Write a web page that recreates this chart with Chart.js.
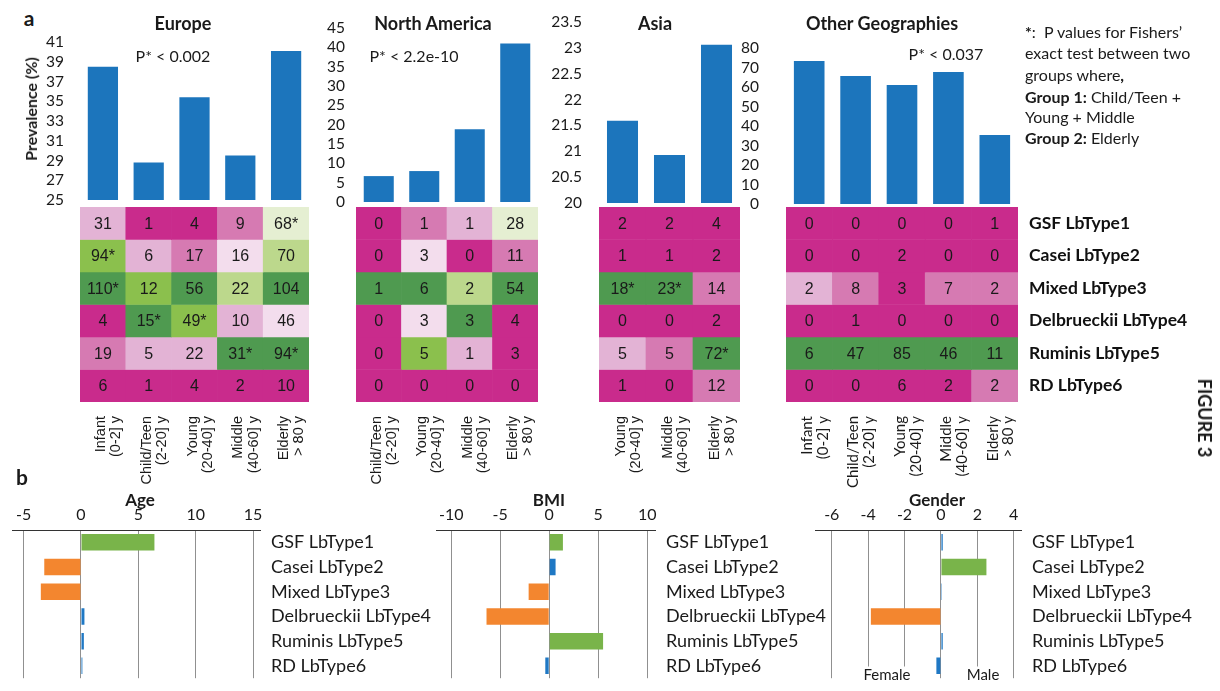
<!DOCTYPE html>
<html>
<head>
<meta charset="utf-8">
<script src="https://cdn.jsdelivr.net/npm/chart.js@4.4.1/dist/chart.umd.min.js"></script>
<style>
  html, body { margin: 0; padding: 0; background: #fff; }
  #fig { position: relative; width: 1220px; height: 691px; overflow: hidden; font-family: Lato, sans-serif; color: #1a1a1a; }
  #fig canvas { position: absolute; }
  .t { position: absolute; white-space: nowrap; line-height: 1; transform: translate(-50%, -50%); }
  .l { position: absolute; white-space: nowrap; line-height: 1; transform: translateY(-50%); }
  .b { font-weight: 700; }
</style>
</head>
<body>
<div id="fig"></div>
<script>
// ---------- shared labels ----------
const rowNames = ['GSF LbType1', 'Casei LbType2', 'Mixed LbType3', 'Delbrueckii LbType4', 'Ruminis LbType5', 'RD LbType6'];
const groupsEU = [['Infant', '(0-2] y'], ['Child/Teen', '(2-20] y'], ['Young', '(20-40] y'], ['Middle', '(40-60] y'], ['Elderly', '> 80 y']];
const groupsNA = [['Child/Teen', '(2-20] y'], ['Young', '(20-40] y'], ['Middle', '(40-60] y'], ['Elderly', '> 80 y']];
const groupsAS = [['Young', '(20-40] y'], ['Middle', '(40-60] y'], ['Elderly', '> 80 y']];
const groupsOT = [['Infant', '(0-2] y'], ['Child/Teen', '(2-20] y'], ['Young', '(20-40] y'], ['Middle', '(40-60] y'], ['Elderly', '> 80 y']];

// ---------- prevalence (%) per age group ----------
const prevEU = [38.5, 28.8, 35.4, 29.5, 40.1];
const prevNA = [6.7, 8.0, 18.8, 41.0];
const prevAS = [21.59, 20.93, 23.06];
const prevOT = [73.3, 65.6, 61.0, 67.7, 35.4];

// ---------- LbType counts per age group (rows follow rowNames) ----------
const countsEU = [[31, 1, 4, 9, 68], [94, 6, 17, 16, 70], [110, 12, 56, 22, 104], [4, 15, 49, 10, 46], [19, 5, 22, 31, 94], [6, 1, 4, 2, 10]];
const countsNA = [[0, 1, 1, 28], [0, 3, 0, 11], [1, 6, 2, 54], [0, 3, 3, 4], [0, 5, 1, 3], [0, 0, 0, 0]];
const countsAS = [[2, 2, 4], [1, 1, 2], [18, 23, 14], [0, 0, 2], [5, 5, 72], [1, 0, 12]];
const countsOT = [[0, 0, 0, 0, 1], [0, 0, 2, 0, 0], [2, 8, 3, 7, 2], [0, 1, 0, 0, 0], [6, 47, 85, 46, 11], [0, 0, 6, 2, 2]];

// heat level of each cell: 0 = strongly depleted ... 7 = strongly enriched
const heatEU = [[2, 0, 0, 1, 4], [6, 2, 1, 3, 5], [7, 6, 7, 5, 7], [0, 7, 6, 2, 3], [1, 2, 2, 7, 7], [0, 0, 0, 0, 0]];
const heatNA = [[0, 1, 2, 4], [0, 3, 0, 1], [7, 7, 5, 7], [0, 3, 7, 0], [0, 6, 2, 0], [0, 0, 0, 0]];
const heatAS = [[0, 0, 0], [0, 0, 0], [7, 7, 1], [0, 0, 0], [2, 1, 7], [0, 0, 1]];
const heatOT = [[0, 0, 0, 0, 0], [0, 0, 0, 0, 0], [2, 1, 0, 1, 1], [0, 0, 0, 0, 0], [7, 7, 7, 7, 7], [0, 0, 0, 0, 1]];

// cells marked significant (* in the table): [row, column]
const starsEU = [[0, 4], [1, 0], [2, 0], [3, 1], [3, 2], [4, 3], [4, 4]];
const starsNA = [];
const starsAS = [[2, 0], [2, 1], [4, 2]];
const starsOT = [];

// ---------- panel b: association scores ----------
const ageScores = [6.4, -3.2, -3.5, 0.3, 0.25, 0.12];
const bmiScores = [1.4, 0.65, -2.1, -6.4, 5.5, -0.4];
const genderScores = [0.1, 2.5, 0.05, -3.85, 0.1, -0.25];
const ageTicks = [-5, 0, 5, 10, 15];
const bmiTicks = [-10, -5, 0, 5, 10];
const genderTicks = [-6, -4, -2, 0, 2, 4];

// ---------- styling ----------
const BAR_BLUE = '#1c75bc';
const HEAT_COLORS = ['#c92b8c', '#d67ab2', '#e3b3d5', '#f3dded', '#e5efd2', '#bcd88c', '#8bc04d', '#4f9a50'];
const POS_GREEN = '#79b44a', NEG_ORANGE = '#f3862f', NS_BLUE = '#1f78c4';

Chart.defaults.font.family = 'Lato, sans-serif';
Chart.defaults.color = '#1a1a1a';
Chart.defaults.animation = false;
Chart.defaults.responsive = false;
Chart.defaults.devicePixelRatio = 1;
Chart.defaults.events = [];
Chart.defaults.plugins.legend.display = false;
Chart.defaults.plugins.tooltip.enabled = false;

// writes the count (and significance star) in the middle of every heat cell
const cellText = {
  id: 'cellText',
  afterDatasetsDraw(chart, args, o) {
    if (!o || !o.counts) return;
    const ctx = chart.ctx;
    ctx.save();
    ctx.font = o.font;
    ctx.fillStyle = '#1a1a1a';
    ctx.textAlign = 'center';
    ctx.textBaseline = 'middle';
    chart.data.datasets.forEach((ds, r) => {
      chart.getDatasetMeta(r).data.forEach((el, c) => {
        const star = o.stars.some(([sr, sc]) => sr === r && sc === c);
        ctx.fillText(String(o.counts[r][c]) + (star ? '*' : ''), el.x, (el.y + el.base) / 2 + 1);
      });
    });
    ctx.restore();
  }
};
Chart.register(cellText);

const fig = document.getElementById('fig');
function canvasAt(left, top, w, h) {
  const c = document.createElement('canvas');
  c.width = w; c.height = h;
  c.style.left = left + 'px'; c.style.top = top + 'px';
  fig.appendChild(c);
  return c;
}
function text(html, x, y, css, cls) {
  const d = document.createElement('div');
  d.className = cls || 't';
  d.innerHTML = html;
  d.style.left = x + 'px'; d.style.top = y + 'px';
  if (css) d.style.cssText += css;
  fig.appendChild(d);
  return d;
}

// ---------- prevalence bar charts ----------
function prevalenceChart(cv, groups, values, yMin, yMax, step, tickPad) {
  return new Chart(cv, {
    type: 'bar',
    data: {
      labels: groups.map(g => g.join(' ')),
      datasets: [{ data: values, backgroundColor: BAR_BLUE, barPercentage: 0.66, categoryPercentage: 1 }]
    },
    options: {
      layout: { padding: { top: 12, bottom: 10, left: 0, right: 0 } },
      scales: {
        x: { display: false },
        y: {
          min: yMin, max: yMax,
          ticks: {
            stepSize: step, autoSkip: false, padding: tickPad, font: { size: 15.5 }, color: '#1a1a1a',
            callback: v => String(Math.round(v * 10) / 10)
          },
          grid: { display: false }, border: { display: false },
          afterFit(s) { s.width = 70; s.paddingTop = 0; s.paddingBottom = 0; }
        }
      }
    }
  });
}
prevalenceChart(canvasAt(10, 30, 299, 180), groupsEU, prevEU, 25, 41, 2, 8);
prevalenceChart(canvasAt(286, 16, 252, 196), groupsNA, prevNA, 0, 45, 5, 3);
prevalenceChart(canvasAt(529, 10, 211, 203), groupsAS, prevAS, 20, 23.5, 0.5, 9);
prevalenceChart(canvasAt(716, 36, 302, 178), groupsOT, prevOT, 0, 80, 10, 19);

// ---------- heat tables ----------
function heatChart(cv, groups, counts, heat, stars, opt) {
  const datasets = counts.map((row, r) => ({
    data: row.map(() => [r, r + 1]),
    backgroundColor: heat[r].map(l => HEAT_COLORS[l]),
    borderWidth: 0,
    grouped: false,
    barPercentage: 1,
    categoryPercentage: 1
  }));
  const scales = {
    x: {
      grid: { display: false }, border: { display: false },
      ticks: {
        autoSkip: false, minRotation: 90, maxRotation: 90, padding: 6, labelOffset: opt.labelOffset,
        font: { family: opt.labelFont, size: opt.labelSize, lineHeight: 1.05 }, color: '#1a1a1a'
      },
      afterFit(s) { s.height = 90; }
    },
    y: { min: 0, max: 6, reverse: true, display: false }
  };
  if (opt.rowLabels) {
    scales.y2 = {
      type: 'category', labels: rowNames, position: 'right', offset: true,
      grid: { display: false }, border: { display: false },
      ticks: { autoSkip: false, padding: 3, font: { weight: 'bold', size: 17.5 }, color: '#111' },
      afterFit(s) { s.width = 200; s.paddingTop = 0; s.paddingBottom = 0; }
    };
  }
  return new Chart(cv, {
    type: 'bar',
    data: { labels: groups, datasets },
    options: {
      layout: { padding: { left: 30, right: opt.rowLabels ? 0 : 30, top: 0, bottom: 0 } },
      scales,
      plugins: { cellText: { counts, stars, font: '16px "Liberation Sans", Arial, sans-serif' } }
    }
  });
}
const armo = '"Liberation Sans", Arial, sans-serif';
heatChart(canvasAt(50, 207, 289, 285), groupsEU, countsEU, heatEU, starsEU, { labelOffset: -2, labelFont: armo, labelSize: 14.5 });
heatChart(canvasAt(326, 207, 242, 285), groupsNA, countsNA, heatNA, starsNA, { labelOffset: -2, labelFont: armo, labelSize: 14.5 });
heatChart(canvasAt(569, 207, 201, 285), groupsAS, countsAS, heatAS, starsAS, { labelOffset: -2, labelFont: armo, labelSize: 14.5 });
heatChart(canvasAt(756, 207, 462, 285), groupsOT, countsOT, heatOT, starsOT, { labelOffset: -2, labelFont: 'Lato, sans-serif', labelSize: 15, rowLabels: true });

// ---------- panel b: diverging bar charts ----------
function scoreColor(v) {
  if (Math.abs(v) < 1) return NS_BLUE;
  return v > 0 ? POS_GREEN : NEG_ORANGE;
}
function scoreChart(cv, scores, tickValues, xMin, xMax, labelWidth) {
  return new Chart(cv, {
    type: 'bar',
    data: {
      labels: rowNames,
      datasets: [{ data: scores, backgroundColor: scores.map(scoreColor), barPercentage: 0.67, categoryPercentage: 1 }]
    },
    options: {
      indexAxis: 'y',
      layout: { padding: 0 },
      scales: {
        x: {
          position: 'top', min: xMin, max: xMax, z: 1,
          afterBuildTicks(s) { s.ticks = tickValues.map(v => ({ value: v })); },
          grid: { color: 'rgba(70,70,70,0.6)', lineWidth: 1, drawTicks: false },
          border: { color: '#333', width: 1 },
          ticks: { padding: 6, font: { size: 16 }, color: '#1a1a1a' },
          afterFit(s) { s.height = 28; }
        },
        y: {
          position: 'right',
          grid: { display: false }, border: { display: false },
          ticks: { padding: 3, font: { size: 18 }, color: '#1a1a1a' },
          afterFit(s) { s.width = labelWidth; }
        }
      }
    }
  });
}
scoreChart(canvasAt(10, 502, 430, 190), ageScores, ageTicks, -6, 15.6, 180);
scoreChart(canvasAt(433, 502, 422, 190), bmiScores, bmiTicks, -11.5, 10.8, 200);
scoreChart(canvasAt(815, 502, 401, 190), genderScores, genderTicks, -6.92, 4.4, 195);

// ---------- captions ----------
text('a', 29, 17, 'font-size:21px;', 't b');
text('b', 22, 476, 'font-size:21px;', 't b');
text('Europe', 183, 23, 'font-size:18px;', 't b');
text('North America', 433, 23, 'font-size:18px;', 't b');
text('Asia', 655, 23, 'font-size:18px;', 't b');
text('Other Geographies', 882, 23, 'font-size:18px;', 't b');
text('P* &lt; 0.002', 173, 56, 'font-size:16px;');
text('P* &lt; 2.2e-10', 414, 56, 'font-size:16px;');
text('P* &lt; 0.037', 946, 54, 'font-size:16px;');
text('Prevalence (%)', 31, 109, 'font-size:16px;transform:translate(-50%,-50%) rotate(-90deg);', 't b');
text('FIGURE 3', 1205, 418, 'font-size:18px;transform:translate(-50%,-50%) rotate(90deg);', 't b');

const legendLines = [
  '<b>*</b>:&nbsp; P values for Fishers\u2019',
  'exact test between two',
  'groups where<b>,</b>',
  '<b>Group 1:</b> Child/Teen +',
  'Young + Middle',
  '<b>Group 2:</b> Elderly'
];
const legendY = [32, 53, 75, 97, 117, 138];
legendLines.forEach((s, i) => text(s, 1025, legendY[i], 'font-size:16px;', 'l'));

text('Age', 140, 499, 'font-size:17px;', 't b');
text('BMI', 549, 499, 'font-size:17px;', 't b');
text('Gender', 937, 499, 'font-size:17px;', 't b');
text('Female', 887, 674, 'font-size:15px;background:#fff;padding:0 2px;');
text('Male', 983, 674, 'font-size:15px;background:#fff;padding:0 2px;');
</script>
</body>
</html>
